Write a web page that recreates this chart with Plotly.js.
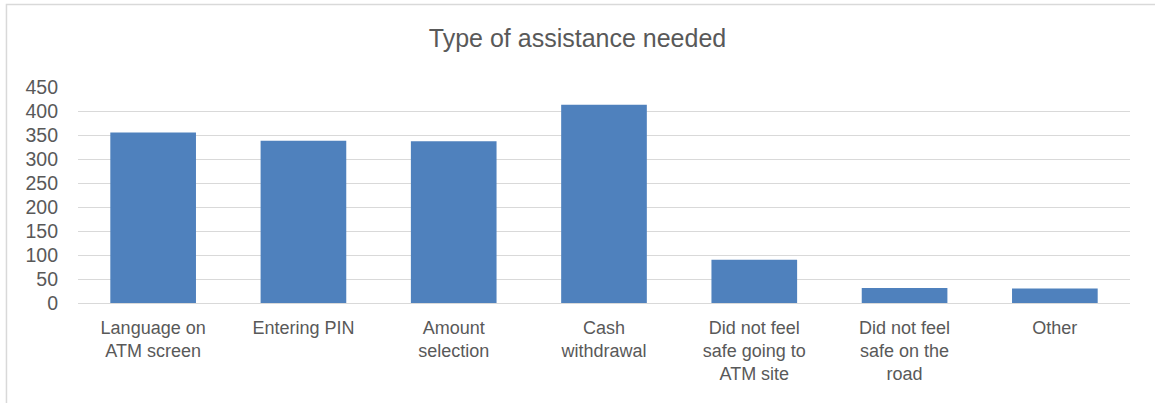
<!DOCTYPE html>
<html>
<head>
<meta charset="utf-8">
<script src="https://cdn.plot.ly/plotly-3.0.1.min.js"></script>
<style>html,body{margin:0;padding:0;background:#fff;}#chart{width:1155px;height:403px;}</style>
</head>
<body>
<div id="chart"></div>
<script>
const categories = [
  "Language on<br>ATM screen",
  "Entering PIN",
  "Amount<br>selection",
  "Cash<br>withdrawal",
  "Did not feel<br>safe going to<br>ATM site",
  "Did not feel<br>safe on the<br>road",
  "Other"
];
const values = [355, 338, 337, 413, 90, 31, 30];
const yTicks = [0, 50, 100, 150, 200, 250, 300, 350, 400, 450];

const trace = {
  type: "bar",
  x: categories,
  y: values,
  marker: {color: "#4f81bd", line: {color: "#4f81bd", width: 0}},
  hoverinfo: "x+y"
};

const layout = {
  width: 1155, height: 403,
  margin: {l: 78, r: 25, t: 87, b: 100},
  paper_bgcolor: "#ffffff", plot_bgcolor: "#ffffff",
  font: {family: "Liberation Sans, Arial, sans-serif", color: "#595959", size: 18},
  title: {text: "Type of assistance needed", x: 0.5, xanchor: "center", y: 0.906, yanchor: "middle",
          font: {size: 25, color: "#595959"}},
  bargap: 0.43,
  showlegend: false,
  xaxis: {
    type: "category",
    showgrid: false, showline: true, linecolor: "#d9d9d9", linewidth: 1,
    ticks: "", tickfont: {size: 18, color: "#595959"}, ticklabelstandoff: 8
  },
  yaxis: {
    range: [0, 450], tickvals: yTicks, ticktext: yTicks.map(String),
    showgrid: true, gridcolor: "#d9d9d9", gridwidth: 1,
    zeroline: true, zerolinecolor: "#d9d9d9", zerolinewidth: 1,
    showline: false, ticks: "", tickfont: {size: 19.5, color: "#595959"},
    ticklabelstandoff: 19, fixedrange: true
  },
  shapes: [{
    type: "rect", xref: "paper", yref: "paper",
    x0: -0.068, x1: 1.06, y0: -0.6, y1: 1.382,
    line: {color: "#d9d9d9", width: 1.5}, fillcolor: "rgba(0,0,0,0)", layer: "below"
  }]
};

Plotly.newPlot("chart", [trace], layout, {displayModeBar: false, staticPlot: true});
</script>
</body>
</html>
